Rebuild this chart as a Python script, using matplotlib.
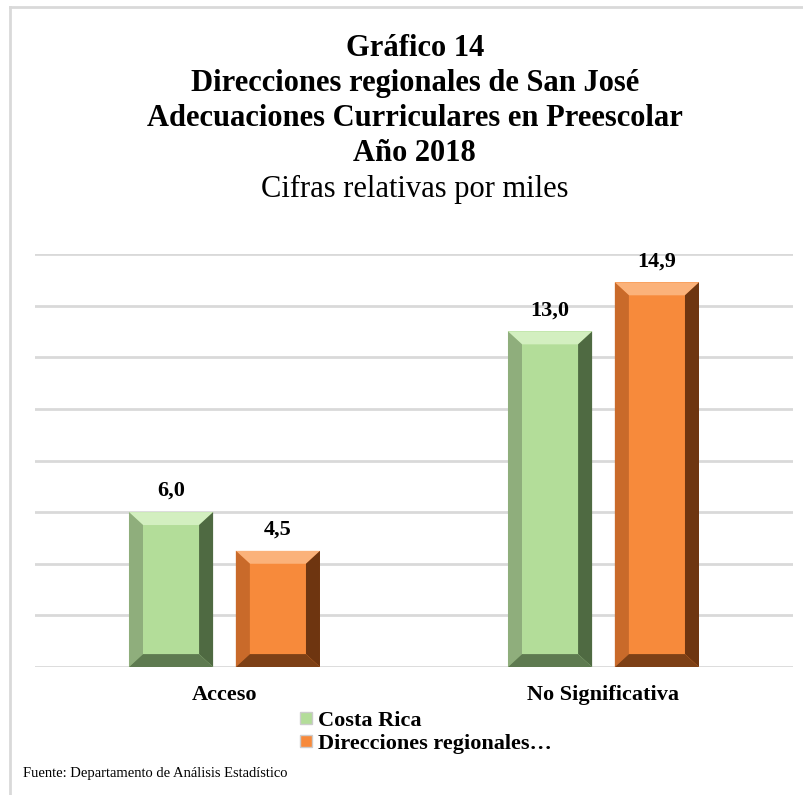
import matplotlib
matplotlib.use("Agg")
import matplotlib.pyplot as plt
from matplotlib.patches import Polygon
from matplotlib.lines import Line2D
import numpy as np

categories = ["Acceso", "No Significativa"]
costa_rica = [6.0, 13.0]
direcciones = [4.5, 14.9]
series_names = ["Costa Rica", "Direcciones regionales…"]
title_lines = ["Gráfico 14", "Direcciones regionales de San José",
               "Adecuaciones Curriculares en Preescolar", "Año 2018"]
subtitle = "Cifras relativas por miles"
source = "Fuente: Departamento de Análisis Estadístico"

green = "#b3dd99"
orange = "#f78a3b"
# bevel shades: top, left, right, bottom
green_bevel = ["#d3efc0", "#8fae7c", "#4f6a42", "#5e7a50"]
orange_bevel = ["#fbb27a", "#c96a2a", "#6e3510", "#7d4016"]

serif = "Liberation Serif"

fig = plt.figure(figsize=(8.04, 7.95), dpi=100)
ax = fig.add_axes([0.0435, 0.161, 0.9428, 0.5195])

x = np.arange(len(categories))
w = 0.222
off = 0.141
b1 = ax.bar(x - off, costa_rica, w, color=green, label=series_names[0], zorder=3)
b2 = ax.bar(x + off, direcciones, w, color=orange, label=series_names[1], zorder=3)

ax.set_xlim(-0.5, 1.5)
ax.set_ylim(0, 16)
ax.set_yticks(np.arange(0, 17, 2))
ax.yaxis.grid(True, color="#d9d9d9", lw=2)
ax.set_axisbelow(True)
ax.tick_params(axis="y", length=0, labelleft=False)
ax.tick_params(axis="x", length=0, pad=13)
ax.set_xticks(x)
ax.set_xticklabels(categories, fontfamily=serif, fontweight="bold", fontsize=16)
for s in ax.spines.values():
    s.set_visible(False)

# bevel edges for a 3D look
bx = 0.037
by = 0.5
for bars, shades in [(b1, green_bevel), (b2, orange_bevel)]:
    for r in bars:
        x0, y0 = r.get_x(), r.get_y()
        x1, y1 = x0 + r.get_width(), y0 + r.get_height()
        polys = [
            [(x0, y1), (x1, y1), (x1 - bx, y1 - by), (x0 + bx, y1 - by)],
            [(x0, y0), (x0, y1), (x0 + bx, y1 - by), (x0 + bx, y0 + by)],
            [(x1, y0), (x1, y1), (x1 - bx, y1 - by), (x1 - bx, y0 + by)],
            [(x0, y0), (x1, y0), (x1 - bx, y0 + by), (x0 + bx, y0 + by)],
        ]
        for p, c in zip(polys, shades):
            ax.add_patch(Polygon(p, closed=True, facecolor=c, edgecolor="none", zorder=4))
        ax.annotate(f"{r.get_height():.1f}".replace(".", ","),
                    (x0 + r.get_width() / 2, y1), xytext=(0, 8),
                    textcoords="offset points", ha="center", va="bottom",
                    fontfamily=serif, fontweight="bold", fontsize=16)

# titles
ty = [0.939, 0.895, 0.851, 0.807]
for t, yy in zip(title_lines, ty):
    fig.text(0.516, yy, t, ha="center", va="center", fontfamily=serif,
             fontweight="bold", fontsize=22)
fig.text(0.516, 0.762, subtitle, ha="center", va="center", fontfamily=serif, fontsize=22)

# legend
handles = [Line2D([], [], marker="s", ls="none", markersize=9, markerfacecolor=c,
                  markeredgecolor="#cccccc") for c in (green, orange)]
fig.legend(handles, series_names, loc="upper left", bbox_to_anchor=(0.358, 0.12),
           frameon=False, prop={"family": serif, "weight": "bold", "size": 16},
           handlelength=0.6, handletextpad=0.25, labelspacing=0.1, borderpad=0)

fig.text(0.028, 0.027, source, ha="left", va="center", fontfamily=serif, fontsize=10.5)

# outer frame (left and top)
fig.add_artist(Line2D([0.0124, 0.0124], [0, 0.991], color="#d9d9d9", lw=2,
                      transform=fig.transFigure))
fig.add_artist(Line2D([0.0124, 1], [0.991, 0.991], color="#d9d9d9", lw=2,
                      transform=fig.transFigure))

fig.savefig("out.png", dpi=100, facecolor="white")
